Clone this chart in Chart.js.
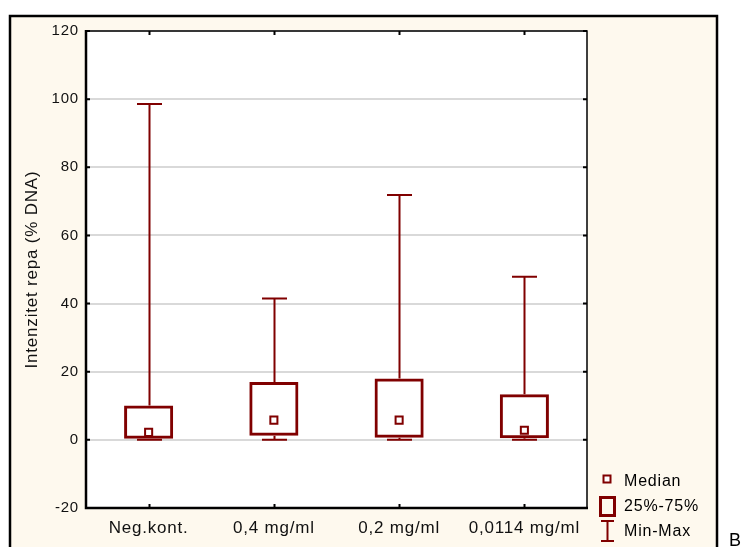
<!DOCTYPE html>
<html>
<head>
<meta charset="utf-8">
<script src="https://cdn.jsdelivr.net/npm/chart.js@4/dist/chart.umd.min.js"></script>
<style>
  body { margin: 0; background: #fff; }
  canvas { display: block; }
</style>
</head>
<body>
<canvas id="box-chart" width="742" height="547"></canvas>
<script>
// 数据
const categories = ['Neg.kont.', '0,4 mg/ml', '0,2 mg/ml', '0,0114 mg/ml'];
const mins = [0, 0, 0, 0];
const q1s = [0, 1.2, 0.6, 0.5];
const medians = [2.2, 5.8, 5.8, 2.8];
const q3s = [10.1, 17.0, 18.0, 13.4];
const maxs = [98.6, 41.5, 71.9, 47.9];
const yTicks = [-20, 0, 20, 40, 60, 80, 100, 120];
const legendLabels = ['Median', '25%-75%', 'Min-Max'];

const DARK_RED = '#800000';
const FONT = "'Liberation Sans', Arial, sans-serif";

// 背景、框线、须线、图例
const boxPlotPlugin = {
    id: 'boxPlotExtras',
    beforeDraw(chart) {
        const ctx = chart.ctx;
        const a = chart.chartArea;
        ctx.save();
        ctx.fillStyle = '#ffffff';
        ctx.fillRect(0, 0, chart.width, chart.height);
        ctx.fillStyle = '#fef9ee';
        ctx.fillRect(10, 16, 707, 540);
        ctx.strokeStyle = '#000';
        ctx.lineWidth = 2.5;
        ctx.strokeRect(10, 16, 707, 560);
        ctx.fillStyle = '#ffffff';
        ctx.fillRect(a.left, a.top, a.right - a.left, a.bottom - a.top);
        ctx.restore();
        // 原图文字字距较宽
        if ('letterSpacing' in ctx) ctx.letterSpacing = '0.8px';
    },
    beforeDatasetsDraw(chart) {
        const ctx = chart.ctx;
        const x = chart.scales.x;
        const y = chart.scales.y;
        ctx.save();
        ctx.strokeStyle = DARK_RED;
        ctx.lineWidth = 2;
        categories.forEach((c, i) => {
            const cx = Math.round(x.getPixelForValue(i)) + 0.5;
            const capHalf = 12.5;
            ctx.beginPath();
            ctx.moveTo(cx, y.getPixelForValue(maxs[i]));
            ctx.lineTo(cx, y.getPixelForValue(q3s[i]));
            ctx.moveTo(cx, y.getPixelForValue(mins[i]));
            ctx.lineTo(cx, y.getPixelForValue(q1s[i]));
            ctx.moveTo(cx - capHalf, y.getPixelForValue(maxs[i]));
            ctx.lineTo(cx + capHalf, y.getPixelForValue(maxs[i]));
            ctx.moveTo(cx - capHalf, y.getPixelForValue(mins[i]));
            ctx.lineTo(cx + capHalf, y.getPixelForValue(mins[i]));
            ctx.stroke();
        });
        ctx.restore();
    },
    afterDraw(chart) {
        const ctx = chart.ctx;
        const a = chart.chartArea;
        const x = chart.scales.x;
        const y = chart.scales.y;
        ctx.save();
        // 绘图区边框
        ctx.strokeStyle = '#000';
        ctx.lineWidth = 1.5;
        ctx.beginPath();
        ctx.moveTo(a.left, a.top);
        ctx.lineTo(a.right, a.top);
        ctx.lineTo(a.right, a.bottom);
        ctx.stroke();
        ctx.lineWidth = 2.5;
        ctx.beginPath();
        ctx.moveTo(a.left, a.top - 1);
        ctx.lineTo(a.left, a.bottom);
        ctx.lineTo(a.right + 1, a.bottom);
        ctx.stroke();
        // 内侧刻度
        ctx.lineWidth = 2;
        ctx.beginPath();
        yTicks.forEach(v => {
            const py = y.getPixelForValue(v);
            ctx.moveTo(a.left, py);
            ctx.lineTo(a.left + 4, py);
            ctx.moveTo(a.right, py);
            ctx.lineTo(a.right - 4, py);
        });
        categories.forEach((c, i) => {
            const px = Math.round(x.getPixelForValue(i)) + 0.5;
            ctx.moveTo(px, a.top);
            ctx.lineTo(px, a.top + 4);
            ctx.moveTo(px, a.bottom);
            ctx.lineTo(px, a.bottom - 4);
        });
        ctx.stroke();

        // 图例
        ctx.strokeStyle = DARK_RED;
        ctx.fillStyle = '#fff';
        ctx.lineWidth = 2;
        ctx.fillRect(603.5, 475.5, 7, 7);
        ctx.strokeRect(603.5, 475.5, 7, 7);
        ctx.lineWidth = 3;
        ctx.strokeRect(600.5, 497.5, 14, 18);
        ctx.lineWidth = 2;
        ctx.beginPath();
        ctx.moveTo(607.5, 521);
        ctx.lineTo(607.5, 541);
        ctx.moveTo(601, 521);
        ctx.lineTo(614, 521);
        ctx.moveTo(601, 541);
        ctx.lineTo(614, 541);
        ctx.stroke();
        ctx.fillStyle = '#000';
        ctx.font = '16px ' + FONT;
        ctx.textBaseline = 'middle';
        ctx.textAlign = 'left';
        [482, 507, 532].forEach((ly, i) => ctx.fillText(legendLabels[i], 624, ly));
        ctx.font = '18px ' + FONT;
        ctx.textBaseline = 'top';
        ctx.fillText('B', 729, 532);
        ctx.restore();
        if ('letterSpacing' in ctx) ctx.letterSpacing = '0px';
    }
};

const chart = new Chart(document.getElementById('box-chart'), {
    type: 'bar',
    data: {
        labels: categories,
        datasets: [
            {
                type: 'line',
                label: 'Median',
                data: medians,
                showLine: false,
                pointStyle: 'rect',
                pointRadius: 5,
                pointHoverRadius: 5,
                pointBorderWidth: 2,
                pointBorderColor: DARK_RED,
                pointBackgroundColor: '#fff',
                order: 0
            },
            {
                label: '25%-75%',
                data: categories.map((c, i) => [q1s[i], q3s[i]]),
                backgroundColor: 'rgba(0,0,0,0)',
                borderColor: DARK_RED,
                borderWidth: 3,
                borderSkipped: false,
                barPercentage: 0.392,
                categoryPercentage: 1,
                order: 1
            }
        ]
    },
    options: {
        responsive: false,
        animation: false,
        layout: { padding: { left: 0, top: 31, right: 155, bottom: 0 } },
        plugins: {
            legend: { display: false },
            tooltip: { enabled: false }
        },
        scales: {
            x: {
                grid: { display: false },
                border: { display: false },
                ticks: {
                    color: '#111',
                    padding: 2,
                    font: { family: FONT, size: 17 },
                    maxRotation: 0
                },
                afterFit(scale) { scale.height = 39; }
            },
            y: {
                min: -20,
                max: 120,
                afterBuildTicks(scale) { scale.ticks = yTicks.map(v => ({ value: v })); },
                grid: { color: '#d9d9d9', lineWidth: 2, drawTicks: false },
                border: { display: false },
                ticks: {
                    color: '#111',
                    padding: 7,
                    font: { family: FONT, size: 15 }
                },
                title: {
                    display: true,
                    text: 'Intenzitet repa (% DNA)',
                    color: '#111',
                    font: { family: FONT, size: 17 },
                    padding: { top: 22, bottom: 0 }
                },
                afterFit(scale) { scale.width = 86; }
            }
        }
    },
    plugins: [boxPlotPlugin]
});
</script>
</body>
</html>
